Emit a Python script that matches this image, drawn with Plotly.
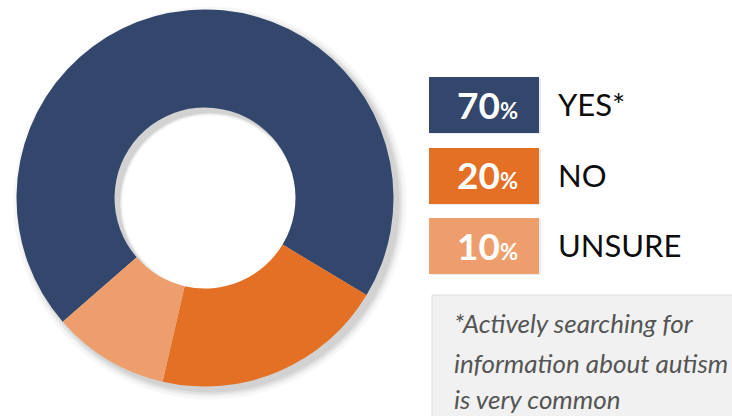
import plotly.graph_objects as go

# Survey answers and their shares (percent)
categories = ["YES*", "NO", "UNSURE"]
shares = [70, 20, 10]
colors = ["#33476c", "#e47026", "#ee9e6c"]
note_lines = ["*Actively searching for", "information about autism", "is very common"]

W, H = 732, 416


def fx(x):
    return x / W


def fy(y):
    return 1 - y / H


fig = go.Figure()

# Soft drop shadow under the donut: a few faint grey rings offset down-right
cx, cy, r = 205, 198, 188.5
hole = 0.48
r_in = hole * r
for grow, alpha in [(8, 0.03), (5, 0.04), (3, 0.05), (1, 0.06)]:
    ox, oy = 5, 5
    rr = r + grow
    fig.add_trace(go.Pie(
        values=[1], labels=["shadow"], hole=(r_in - grow * 0.4) / rr,
        marker=dict(colors=[f"rgba(0,0,0,{alpha})"], line=dict(width=0)),
        textinfo="none", hoverinfo="skip", showlegend=False, sort=False,
        domain=dict(x=[fx(cx + ox - rr), fx(cx + ox + rr)],
                    y=[fy(cy + oy + rr), fy(cy + oy - rr)]),
    ))

# The donut itself
fig.add_trace(go.Pie(
    labels=categories, values=shares, hole=hole, sort=False,
    direction="clockwise", rotation=229,
    marker=dict(colors=colors, line=dict(width=0)),
    textinfo="none", hoverinfo="label+percent", showlegend=False,
    domain=dict(x=[fx(cx - r), fx(cx + r)], y=[fy(cy + r), fy(cy - r)]),
))

shapes = []
annotations = []

# Coloured value boxes with category labels
box_top = [77, 148, 218]
box_h = 56
for i, (cat, val, col) in enumerate(zip(categories, shares, colors)):
    y0 = box_top[i]
    shapes.append(dict(type="rect", xref="paper", yref="paper",
                       x0=fx(431), x1=fx(541), y0=fy(y0 + box_h + 1), y1=fy(y0 + 1),
                       fillcolor="rgba(0,0,0,0.08)", line=dict(width=0), layer="below"))
    shapes.append(dict(type="rect", xref="paper", yref="paper",
                       x0=fx(429), x1=fx(539), y0=fy(y0 + box_h), y1=fy(y0),
                       fillcolor=col, line=dict(width=0), layer="above"))
    yc = y0 + box_h / 2
    annotations.append(dict(
        xref="paper", yref="paper", x=fx(487), y=fy(yc - 1),
        text=f"<b>{val}<span style='font-size:22px'>%</span></b>",
        showarrow=False, xanchor="center", yanchor="middle",
        font=dict(family="Lato", size=37, color="white"),
    ))
    annotations.append(dict(
        xref="paper", yref="paper", x=fx(556), y=fy(yc - 1),
        text=cat, showarrow=False, xanchor="left", yanchor="middle",
        font=dict(family="Lato", size=31, color="#0d0d0d"),
    ))

# Footnote panel
shapes.append(dict(type="rect", xref="paper", yref="paper",
                   x0=fx(432), x1=fx(740), y0=fy(420), y1=fy(295),
                   fillcolor="#f1f1f1", line=dict(color="#dedede", width=1)))
for line, yc in zip(note_lines, [323, 363, 399]):
    annotations.append(dict(
        xref="paper", yref="paper", x=fx(452), y=fy(yc),
        text=f"<i>{line}</i>", showarrow=False, xanchor="left", yanchor="middle",
        font=dict(family="Lato", size=26, color="#555555"),
    ))

fig.update_layout(
    width=W, height=H, margin=dict(l=0, r=0, t=0, b=0),
    paper_bgcolor="white", plot_bgcolor="white",
    shapes=shapes, annotations=annotations,
)

fig.write_html("out.html")
